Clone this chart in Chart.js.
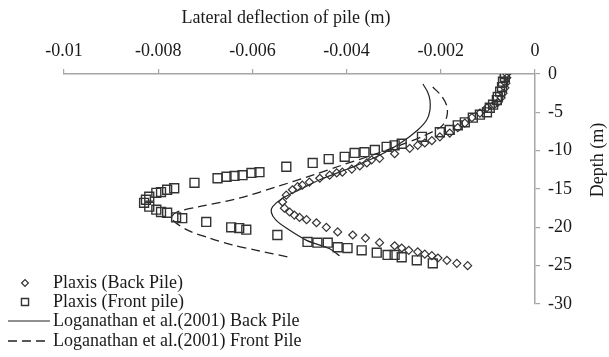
<!DOCTYPE html>
<html>
<head>
<meta charset="utf-8">
<script src="https://cdn.jsdelivr.net/npm/chart.js@4/dist/chart.umd.min.js"></script>
<style>
html,body{margin:0;padding:0;background:#fff;}
#c{display:block;}
</style>
</head>
<body>
<canvas id="c" width="609" height="357"></canvas>
<script>
// ---- Data (deflection in m, depth in m) ----
const xTitle = 'Lateral deflection of pile (m)';
const yTitle = 'Depth (m)';
const xTickValues = [-0.01, -0.008, -0.006, -0.004, -0.002, 0];
const xTickLabels = ['-0.01', '-0.008', '-0.006', '-0.004', '-0.002', '0'];
const yTickValues = [0, -5, -10, -15, -20, -25, -30];
const yTickLabels = ['0', '-5', '-10', '-15', '-20', '-25', '-30'];
const seriesNames = ['Plaxis (Back Pile)', 'Plaxis (Front pile)', 'Loganathan et al.(2001) Back Pile', 'Loganathan et al.(2001) Front Pile'];

const plaxisBackDefl = [-0.00060,-0.00060,-0.00062,-0.00064,-0.00068,-0.00072,-0.00079,-0.00087,-0.00102,-0.00117,-0.00134,-0.00149,-0.00164,-0.00181,-0.00202,-0.00219,-0.00234,-0.00249,-0.00266,-0.00298,-0.00330,-0.00347,-0.00357,-0.00372,-0.00389,-0.00409,-0.00421,-0.00436,-0.00457,-0.00479,-0.00494,-0.00504,-0.00515,-0.00528,-0.00536,-0.00532,-0.00521,-0.00511,-0.00500,-0.00485,-0.00464,-0.00443,-0.00419,-0.00387,-0.00360,-0.00330,-0.00298,-0.00283,-0.00268,-0.00249,-0.00234,-0.00219,-0.00206,-0.00187,-0.00166,-0.00143];
const plaxisBackDepth = [0,-0.5,-1.2,-1.8,-2.5,-3.1,-3.7,-4.0,-4.4,-5.1,-5.7,-6.4,-7.0,-7.7,-8.2,-8.7,-9.0,-9.3,-9.7,-10.4,-11.0,-11.2,-11.6,-12.0,-12.4,-12.8,-12.9,-13.2,-13.6,-14.1,-14.5,-14.7,-15.1,-15.8,-16.7,-17.5,-18.0,-18.4,-18.7,-19.0,-19.4,-20.0,-20.6,-21.0,-21.4,-22.0,-22.4,-22.7,-23.0,-23.2,-23.5,-23.7,-24.0,-24.3,-24.7,-25.0];

const plaxisFrontDefl = [-0.00064,-0.00064,-0.00068,-0.00070,-0.00074,-0.00079,-0.00081,-0.00089,-0.00096,-0.00102,-0.00117,-0.00132,-0.00149,-0.00164,-0.00181,-0.00202,-0.00240,-0.00283,-0.00298,-0.00315,-0.00340,-0.00362,-0.00383,-0.00404,-0.00438,-0.00472,-0.00528,-0.00585,-0.00602,-0.00621,-0.00638,-0.00655,-0.00674,-0.00723,-0.00766,-0.00781,-0.00794,-0.00804,-0.00819,-0.00826,-0.00830,-0.00819,-0.00804,-0.00794,-0.00781,-0.00762,-0.00749,-0.00698,-0.00645,-0.00628,-0.00613,-0.00547,-0.00483,-0.00462,-0.00440,-0.00419,-0.00398,-0.00368,-0.00336,-0.00313,-0.00298,-0.00283,-0.00251,-0.00217];
const plaxisFrontDepth = [0,-0.4,-1.0,-1.7,-2.3,-3.0,-3.4,-4.0,-4.4,-5.0,-5.3,-5.7,-6.3,-6.7,-7.3,-7.6,-8.2,-9.1,-9.3,-9.5,-9.9,-10.2,-10.3,-10.8,-11.1,-11.6,-12.1,-12.8,-12.9,-13.2,-13.3,-13.4,-13.6,-14.2,-14.9,-15.1,-15.4,-15.5,-16.0,-16.4,-16.8,-17.3,-17.7,-18.0,-18.1,-18.7,-18.8,-19.3,-20.0,-20.1,-20.3,-21.0,-21.9,-22.0,-22.0,-22.6,-22.7,-23.0,-23.3,-23.6,-23.6,-23.9,-24.3,-24.7];

const loganBackDefl = [-0.00238,-0.00228,-0.00223,-0.00223,-0.00230,-0.00249,-0.00283,-0.00330,-0.00394,-0.00457,-0.00500,-0.00536,-0.00557,-0.00560,-0.00551,-0.00528,-0.00485,-0.00436,-0.00415];
const loganBackDepth = [-1.3,-2.35,-3.4,-4.7,-6.0,-7.3,-8.9,-10.6,-12.3,-13.8,-15.1,-16.2,-17.3,-18.0,-19.0,-20.1,-21.7,-22.8,-23.7];

const loganFrontDefl = [-0.00217,-0.00198,-0.00187,-0.00187,-0.00198,-0.00234,-0.00287,-0.00351,-0.00415,-0.00472,-0.00543,-0.00628,-0.00713,-0.00760,-0.00772,-0.00740,-0.00691,-0.00643,-0.00591,-0.00521];
const loganFrontDepth = [-1.7,-2.9,-4.2,-5.5,-6.8,-8.0,-9.3,-10.7,-12.0,-13.2,-14.6,-16.2,-17.3,-18.0,-18.8,-20.3,-21.4,-22.3,-23.0,-23.9];

// ---- build ----
const pts = (xs, ys) => xs.map((v, i) => ({x: v, y: ys[i]}));
const FONT = '"Liberation Serif", "Times New Roman", serif';
const AXIS_GRAY = '#a6a6a6';
const INK = '#1a1a1a';

const datasets = [
  { label: seriesNames[0], data: pts(plaxisBackDefl, plaxisBackDepth), showLine: false,
    pointStyle: 'rectRot', pointRadius: 4, pointBorderWidth: 1.2,
    borderColor: '#333', pointBorderColor: '#333', pointBackgroundColor: 'rgba(255,255,255,0)', backgroundColor: 'rgba(255,255,255,0)' },
  { label: seriesNames[1], data: pts(plaxisFrontDefl, plaxisFrontDepth), showLine: false,
    pointStyle: 'rect', pointRadius: 6.3, pointBorderWidth: 1.4,
    borderColor: '#333', pointBorderColor: '#333', pointBackgroundColor: 'rgba(255,255,255,0)', backgroundColor: 'rgba(255,255,255,0)' },
  { label: seriesNames[2], data: pts(loganBackDefl, loganBackDepth), showLine: true,
    pointRadius: 0, borderColor: '#222', borderWidth: 1.2, tension: 0.3, fill: false },
  { label: seriesNames[3], data: pts(loganFrontDefl, loganFrontDepth), showLine: true,
    pointRadius: 0, borderColor: '#222', borderWidth: 1.3, borderDash: [9, 5], tension: 0.3, fill: false }
];

const textPlugin = {
  id: 'textPlugin',
  afterDraw(chart) {
    const ctx = chart.ctx;
    ctx.save();
    ctx.font = '18px ' + FONT;
    ctx.fillStyle = INK;
    ctx.textBaseline = 'middle';
    ctx.textAlign = 'center';
    ctx.fillText(xTitle, 286, 18);
    ctx.save();
    ctx.translate(598, 160);
    ctx.rotate(-Math.PI / 2);
    ctx.fillText(yTitle, 0, 0);
    ctx.restore();
    const rows = [283, 302, 321, 341];
    chart.data.datasets.forEach((ds, i) => {
      const y = rows[i];
      ctx.save();
      if (!ds.showLine) {
        ctx.strokeStyle = ds.pointBorderColor;
        ctx.fillStyle = 'rgba(255,255,255,0)';
        ctx.lineWidth = ds.pointBorderWidth;
        Chart.helpers.drawPoint(ctx, {pointStyle: ds.pointStyle, radius: ds.pointStyle === 'rect' ? 5 : 3.4, rotation: 0, borderWidth: ds.pointBorderWidth}, 25, y);
      } else {
        ctx.strokeStyle = ds.borderColor;
        ctx.lineWidth = ds.borderWidth;
        ctx.setLineDash(ds.borderDash || []);
        ctx.beginPath();
        ctx.moveTo(8, y);
        ctx.lineTo(50, y);
        ctx.stroke();
      }
      ctx.restore();
      ctx.textAlign = 'left';
      ctx.fillStyle = INK;
      ctx.fillText(ds.label, 53, y);
    });
    ctx.restore();
  }
};

new Chart(document.getElementById('c'), {
  type: 'scatter',
  data: { datasets },
  options: {
    responsive: false,
    animation: false,
    devicePixelRatio: 1,
    layout: { padding: { left: 64, right: 0, top: 0, bottom: 53 } },
    plugins: { legend: { display: false }, tooltip: { enabled: false } },
    scales: {
      x: {
        type: 'linear', position: 'top', min: -0.01, max: 0,
        afterFit(s) { s.height = 74; },
        afterBuildTicks(s) { s.ticks = xTickValues.map(v => ({value: v})); },
        ticks: {
          font: { family: FONT, size: 18 }, color: INK, padding: 7, maxRotation: 0, autoSkip: false,
          callback(v) { const i = xTickValues.findIndex(t => Math.abs(t - v) < 1e-9); return i >= 0 ? xTickLabels[i] : ''; }
        },
        grid: { drawOnChartArea: false, drawTicks: true, tickLength: 5, color: AXIS_GRAY, lineWidth: 1.2 },
        border: { display: true, color: AXIS_GRAY, width: 1.5 }
      },
      y: {
        type: 'linear', position: 'right', min: -30, max: 0,
        afterFit(s) { s.width = 74; },
        afterBuildTicks(s) { s.ticks = yTickValues.map(v => ({value: v})); },
        ticks: {
          font: { family: FONT, size: 18 }, color: INK, padding: 8, autoSkip: false,
          callback(v) { const i = yTickValues.indexOf(v); return i >= 0 ? yTickLabels[i] : ''; }
        },
        grid: { drawOnChartArea: false, drawTicks: true, tickLength: 5, color: AXIS_GRAY, lineWidth: 1.2 },
        border: { display: true, color: AXIS_GRAY, width: 1.5 }
      }
    }
  },
  plugins: [textPlugin]
});
</script>
</body>
</html>
